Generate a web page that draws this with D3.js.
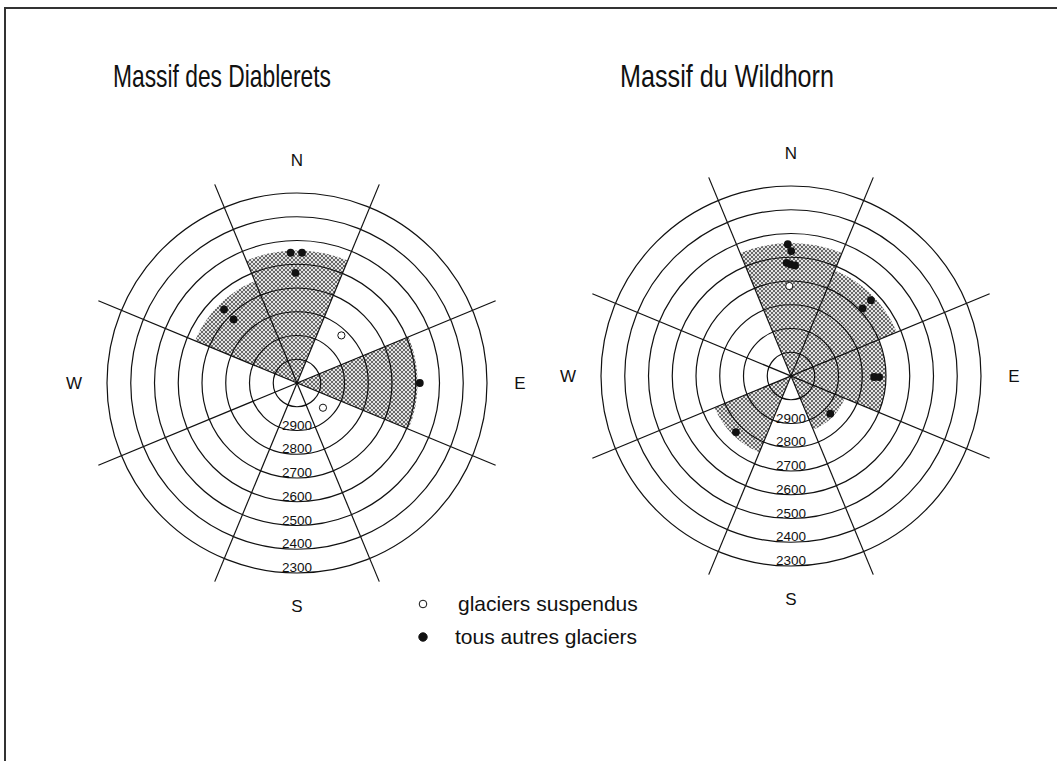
<!DOCTYPE html>
<html>
<head>
<meta charset="utf-8">
<script src="https://cdn.jsdelivr.net/npm/d3@7"></script>
<style>
	body { margin: 0; background: #fff; }
	svg { display: block; font-family: 'Liberation Sans', Arial, sans-serif; }
</style>
</head>
<body>
<svg id="chart" width="1057" height="761"></svg>
<script>
// rings, innermost one is 3000 m
const ringAltitudes = [3000, 2900, 2800, 2700, 2600, 2500, 2400, 2300];
const ringLabels = ['2900', '2800', '2700', '2600', '2500', '2400', '2300'];
const directionLabels = ['N', 'E', 'S', 'W'];
const directionAzimuths = [0, 90, 180, 270];
const sectorBoundaries = [22.5, 67.5, 112.5, 157.5];
const massifNames = ['Massif des Diablerets', 'Massif du Wildhorn'];

// shaded sectors: centre azimuth and lowest altitude
const diableretsSectorAzimuths = [0, 315, 90];
const diableretsSectorMinAlt = [2542, 2635, 2592];
const wildhornSectorAzimuths = [0, 45, 90, 135, 225];
const wildhornSectorMinAlt = [2540, 2618, 2700, 2855, 2752];

// glacier fronts [azimuth, altitude]
const diableretsHanging = [[43, 2826], [133.6, 2949]];
const diableretsOther = [[357.2, 2551], [2.2, 2551], [359.2, 2636], [315.2, 2664], [315.1, 2722], [90, 2583]];
const wildhornHanging = [[358.9, 2721]];
const wildhornOther = [[358.6, 2545], [0.1, 2574], [357.8, 2623], [359.8, 2630], [2.1, 2634],
	[46.5, 2636], [46.6, 2685], [90.7, 2750], [90.7, 2729], [133.8, 2871], [224.5, 2769]];

const legendLabels = ['glaciers suspendus', 'tous autres glaciers'];

const RoseChart = {
	outerRadius: 190,
	lineLength: 215,
	labelDistance: 223,
	dotRadius: 3.9,
	radiusScale: null,

	panels: [
		{ cx: 297, cy: 383, titleX: 222, titleY: 87, titleWidth: 218 },
		{ cx: 791, cy: 376, titleX: 727, titleY: 87, titleWidth: 214 }
	],

	init: function() {
		const self = this;

		self.radiusScale = d3.scaleLinear()
			.domain([3100, 2300])
			.range([0, self.outerRadius]);

		self.panels[0].name = massifNames[0];
		self.panels[0].sectors = diableretsSectorAzimuths.map(function(az, i) { return { az: az, alt: diableretsSectorMinAlt[i] } });
		self.panels[0].hanging = diableretsHanging;
		self.panels[0].other = diableretsOther;
		self.panels[1].name = massifNames[1];
		self.panels[1].sectors = wildhornSectorAzimuths.map(function(az, i) { return { az: az, alt: wildhornSectorMinAlt[i] } });
		self.panels[1].hanging = wildhornHanging;
		self.panels[1].other = wildhornOther;
	},
	update: function() {
		const self = this;
		var svg = d3.select('#chart');

		self.drawFrame(svg);
		self.addPattern(svg);
		self.panels.forEach(function(p) { self.drawPanel(svg, p); });
		self.drawLegend(svg);
	},

	drawFrame: function(svg) {
		svg.append('path')
			.attr('d', 'M5,761V8H1057')
			.attr('fill', 'none')
			.attr('stroke', '#333')
			.attr('stroke-width', 2);
	},
	addPattern: function(svg) {
		var pattern = svg.append('defs').append('pattern')
			.attr('id', 'stipple')
			.attr('patternUnits', 'userSpaceOnUse')
			.attr('width', 4)
			.attr('height', 4);
		pattern.append('rect').attr('width', 4).attr('height', 4).attr('fill', '#e2e2e2');
		pattern.selectAll('circle')
			.data([[1, 1], [3, 3]])
			.enter().append('circle')
			.attr('cx', function(d) { return d[0] })
			.attr('cy', function(d) { return d[1] })
			.attr('r', 0.95)
			.attr('fill', '#333');
	},

	drawPanel: function(svg, p) {
		const self = this;
		var r = self.radiusScale;
		var toRad = Math.PI / 180;

		svg.append('text')
			.attr('x', p.titleX)
			.attr('y', p.titleY)
			.attr('text-anchor', 'middle')
			.attr('font-size', 32)
			.attr('textLength', p.titleWidth)
			.attr('lengthAdjust', 'spacingAndGlyphs')
			.attr('fill', '#111')
			.text(p.name);

		var g = svg.append('g')
			.attr('transform', 'translate(' + [ p.cx, p.cy ] + ')');

		// shaded sectors
		var arc = d3.arc()
			.innerRadius(0)
			.outerRadius(function(d) { return r(d.alt) })
			.startAngle(function(d) { return (d.az - 22.5) * toRad })
			.endAngle(function(d) { return (d.az + 22.5) * toRad });

		g.selectAll('.sector')
			.data(p.sectors)
			.enter().append('path')
			.attr('class', 'sector')
			.attr('d', arc)
			.attr('fill', 'url(#stipple)');

		// rings
		g.selectAll('.ring')
			.data(ringAltitudes)
			.enter().append('circle')
			.attr('class', 'ring')
			.attr('r', function(d) { return r(d) })
			.attr('fill', 'none')
			.attr('stroke', '#111')
			.attr('stroke-width', 1.2);

		// sector lines
		g.selectAll('.sector-line')
			.data(sectorBoundaries)
			.enter().append('line')
			.attr('class', 'sector-line')
			.attr('x1', function(d) { return d3.pointRadial(d * toRad, self.lineLength)[0] })
			.attr('y1', function(d) { return d3.pointRadial(d * toRad, self.lineLength)[1] })
			.attr('x2', function(d) { return d3.pointRadial((d + 180) * toRad, self.lineLength)[0] })
			.attr('y2', function(d) { return d3.pointRadial((d + 180) * toRad, self.lineLength)[1] })
			.attr('stroke', '#111')
			.attr('stroke-width', 1.2);

		// ring labels, sitting on the ring
		g.selectAll('.ring-label')
			.data(ringLabels)
			.enter().append('text')
			.attr('class', 'ring-label')
			.attr('x', 0)
			.attr('y', function(d) { return r(+d) - 1 })
			.attr('text-anchor', 'middle')
			.attr('font-size', 13.5)
			.attr('fill', '#111')
			.text(function(d) { return d });

		// compass
		g.selectAll('.direction')
			.data(directionLabels)
			.enter().append('text')
			.attr('class', 'direction')
			.attr('x', function(d, i) { return d3.pointRadial(directionAzimuths[i] * toRad, self.labelDistance)[0] })
			.attr('y', function(d, i) { return d3.pointRadial(directionAzimuths[i] * toRad, self.labelDistance)[1] })
			.attr('text-anchor', 'middle')
			.attr('dominant-baseline', 'central')
			.attr('font-size', 17)
			.attr('fill', '#111')
			.text(function(d) { return d });

		// glacier fronts
		g.selectAll('.other')
			.data(p.other)
			.enter().append('circle')
			.attr('class', 'other')
			.attr('cx', function(d) { return d3.pointRadial(d[0] * toRad, r(d[1]))[0] })
			.attr('cy', function(d) { return d3.pointRadial(d[0] * toRad, r(d[1]))[1] })
			.attr('r', self.dotRadius)
			.attr('fill', '#111');

		g.selectAll('.hanging')
			.data(p.hanging)
			.enter().append('circle')
			.attr('class', 'hanging')
			.attr('cx', function(d) { return d3.pointRadial(d[0] * toRad, r(d[1]))[0] })
			.attr('cy', function(d) { return d3.pointRadial(d[0] * toRad, r(d[1]))[1] })
			.attr('r', 3.6)
			.attr('fill', '#fff')
			.attr('stroke', '#111')
			.attr('stroke-width', 1);
	},

	drawLegend: function(svg) {
		var legend = svg.append('g')
			.attr('transform', 'translate(423,604)');

		legend.selectAll('circle')
			.data(legendLabels)
			.enter().append('circle')
			.attr('cx', 0)
			.attr('cy', function(d, i) { return i * 33 })
			.attr('r', function(d, i) { return i == 0 ? 3.8 : 4.2 })
			.attr('fill', function(d, i) { return i == 0 ? '#fff' : '#111' })
			.attr('stroke', '#111')
			.attr('stroke-width', 1);

		legend.selectAll('text')
			.data(legendLabels)
			.enter().append('text')
			.attr('x', function(d, i) { return i == 0 ? 35 : 32 })
			.attr('y', function(d, i) { return i * 33 + 7 })
			.attr('font-size', 21)
			.attr('fill', '#111')
			.text(function(d) { return d });
	}
};

RoseChart.init();
RoseChart.update();
</script>
</body>
</html>
